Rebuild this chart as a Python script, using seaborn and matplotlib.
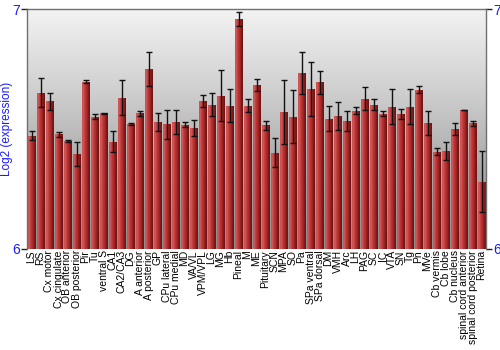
import numpy as np
import pandas as pd
import matplotlib
matplotlib.use("Agg")
import matplotlib.pyplot as plt
import seaborn as sns
from matplotlib.colors import LinearSegmentedColormap

categories = ["LS", "RS", "Cx motor", "Cx cingulate", "OB anterior", "OB posterior", "Pir", "Tu",
              "ventral S", "CA1", "CA2/CA3", "DG", "A anterior", "A posterior", "GP", "CPu lateral",
              "CPu medial", "MD", "VA/VL", "VPM/VPL", "LG", "MG", "Hb", "Pineal", "M", "ME",
              "Pituitary", "SCN", "MPA", "SO", "Pa", "SPa ventral", "SPa dorsal", "DM", "VMH", "Arc",
              "LH", "PAG", "SC", "IC", "VTA", "SN", "Tg", "Pn", "MVe", "Cb vermis", "Cb lobe",
              "Cb nucleus", "spinal cord anterior", "spinal cord posterior", "Retina"]
values = [6.473, 6.653, 6.616, 6.478, 6.449, 6.397, 6.699, 6.552,
          6.566, 6.448, 6.631, 6.523, 6.566, 6.752, 6.530, 6.520,
          6.530, 6.519, 6.506, 6.616, 6.602, 6.640, 6.598, 6.960, 6.598, 6.685,
          6.516, 6.402, 6.570, 6.552, 6.735, 6.669, 6.695, 6.544, 6.556, 6.533,
          6.577, 6.628, 6.602, 6.565, 6.594, 6.563, 6.594, 6.665, 6.527, 6.406, 6.409,
          6.501, 6.580, 6.524, 6.281]
errors = [0.020, 0.060, 0.037, 0.011, 0.004, 0.049, 0.005, 0.011,
          0.002, 0.044, 0.073, 0.004, 0.010, 0.072, 0.039, 0.062,
          0.050, 0.011, 0.033, 0.025, 0.049, 0.107, 0.068, 0.030, 0.027, 0.025,
          0.019, 0.062, 0.134, 0.111, 0.089, 0.112, 0.049, 0.052, 0.058, 0.042,
          0.015, 0.050, 0.024, 0.012, 0.074, 0.020, 0.074, 0.014, 0.050, 0.014, 0.037,
          0.025, 0.002, 0.011, 0.126]
y_ticks = [6, 7]
y_label = "Log2 (expression)"

df = pd.DataFrame({"region": categories, "expr": values})

sns.set_style("white")
plt.rcParams['font.family'] = ['Liberation Sans', 'DejaVu Sans']

fig = plt.figure(figsize=(5, 3.5), dpi=100)
ax = fig.add_axes([0.054, 0.289, 0.918, 0.684])

sns.barplot(data=df, x="region", y="expr", color="#b83232", width=0.86,
            errorbar=None, ax=ax, zorder=2)

n = len(categories)
ymin, ymax = y_ticks[0], y_ticks[-1]

# background gradient (dark at bottom, light at top)
bg = LinearSegmentedColormap.from_list("bg", ["#8e8e8e", "#a9a9a9", "#d0d0d0", "#f3f3f3"])
grad = np.linspace(0, 1, 256).reshape(-1, 1)
ax.imshow(grad, cmap=bg, aspect="auto", extent=(-0.5, n - 0.5, ymin, ymax),
          zorder=0, origin="lower")

# cylinder shading for bars
barcm = LinearSegmentedColormap.from_list(
    "bar", ["#c85050", "#d45a5a", "#c03c3c", "#b43030", "#a02626", "#7c1818", "#6a1212"])
hgrad = np.linspace(0, 1, 64).reshape(1, -1)
for p in list(ax.patches):
    x0 = p.get_x()
    w, h = p.get_width(), p.get_height()
    top = p.get_y() + h
    im = ax.imshow(hgrad, cmap=barcm, aspect="auto", extent=(x0, x0 + w, ymin, top),
                   zorder=2.5, origin="lower")
    im.set_clip_path(p)
    p.set_edgecolor("none")

ax.errorbar(x=np.arange(n), y=values, yerr=errors, fmt="none",
            ecolor="#111111", elinewidth=1.0, capsize=2, capthick=1.0, zorder=3)

ax.set_xlim(-0.5, n - 0.5)
ax.set_ylim(ymin, ymax)
ax.set_xlabel("")
ax.set_ylabel(y_label, color="#1a1aff", fontsize=8.5)
ax.yaxis.set_label_coords(-0.031, 0.5)
ax.set_yticks(y_ticks)
ax.set_yticklabels([str(t) for t in y_ticks])
ax.tick_params(axis="y", labelcolor="#1a1aff", color="#222222", labelsize=10, length=4, width=1,
               left=True, right=True, labelleft=True, labelright=True, pad=1)
ax.tick_params(axis="x", labelsize=7.5, rotation=90, length=0, pad=1, labelcolor="black")

for side in ["left", "top", "right"]:
    ax.spines[side].set_color("#707070")
    ax.spines[side].set_linewidth(1)
    ax.spines[side].set_visible(True)
ax.spines["bottom"].set_visible(False)

fig.savefig("out.png", dpi=100)
